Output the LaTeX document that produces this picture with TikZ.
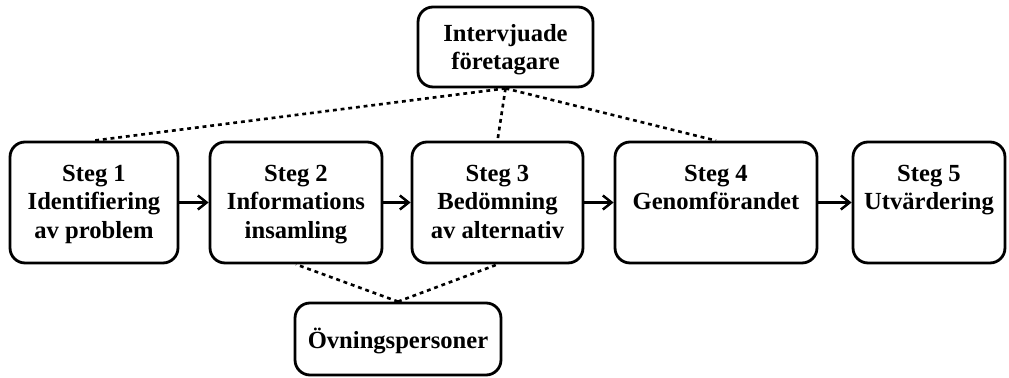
\documentclass[tikz,border=0pt]{standalone}
\usepackage{fontspec}
\setmainfont{Liberation Serif}
\usetikzlibrary{positioning, calc, arrows.meta}

\begin{document}
\begin{tikzpicture}[
        x=0.02cm, y=-0.02cm,
        font=\fontsize{14}{16}\selectfont\bfseries,
        box/.style={rectangle, rounded corners=0.3cm, draw, line width=1.6pt, align=center},
        stegbox/.style={box, minimum height=2.42cm, text height=44pt, text depth=3.5pt},
        sidebox/.style={box, text depth=3.5pt},
        arrow/.style={-{Straight Barb[length=5pt, width=8pt, line width=1.4pt]}, line width=1.6pt},
        link/.style={line width=1.5pt, dash pattern=on 2.2pt off 2.2pt}
    ]

        \useasboundingbox (0,0) rectangle (1009,378);

        % Steps
        \node [stegbox, minimum width=3.36cm] (s1) at (94,202.5) {Steg 1\\Identifiering\\av problem};
        \node [stegbox, minimum width=3.44cm] (s2) at (296,202.5) {Steg 2\\Informations\\insamling};
        \node [stegbox, minimum width=3.42cm] (s3) at (497.5,202.5) {Steg 3\\Bedömning\\av alternativ};
        \node [stegbox, minimum width=4.04cm] (s4) at (716,202.5) {Steg 4\\Genomförandet\\\phantom{p}};
        \node [stegbox, minimum width=3.04cm] (s5) at (929,202.5) {Steg 5\\Utvärdering\\\phantom{p}};

        % Sources
        \node [sidebox, minimum width=3.5cm, minimum height=1.6cm, text height=29pt] (intervju) at (505.5,47) {Intervjuade\\företagare};
        \node [sidebox, minimum width=4.12cm, minimum height=1.44cm, text height=14pt] (ovning) at (398,339) {Övningspersoner};

        % Flow
        \draw [arrow] (s1) -- (s2);
        \draw [arrow] (s2) -- (s3);
        \draw [arrow] (s3) -- (s4);
        \draw [arrow] (s4) -- (s5);

        % Dotted links
        \draw [link] (intervju.south) -- (s1.north);
        \draw [link] (intervju.south) -- (s3.north);
        \draw [link] (intervju.south) -- (s4.north);
        \draw [link] (ovning.north) -- (s2.south);
        \draw [link] (ovning.north) -- (s3.south);

    \end{tikzpicture}
\end{document}
